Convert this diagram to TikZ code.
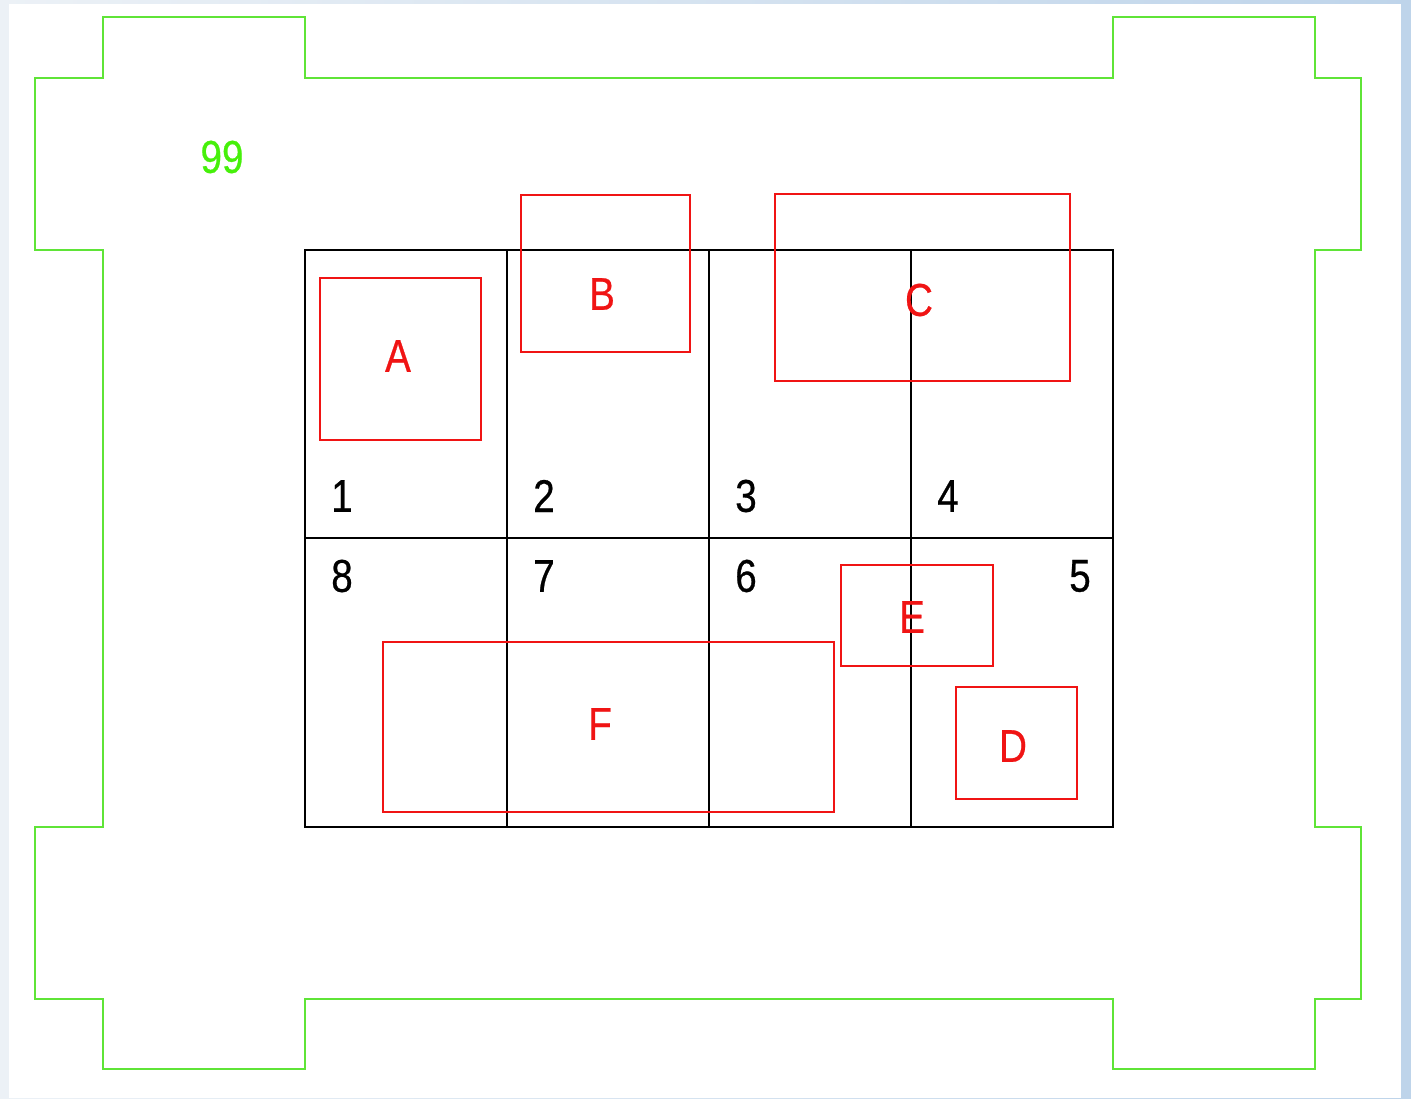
\documentclass[tikz,border=0pt]{standalone}
\usepackage{graphicx}
\usepackage{fontspec}
\setmainfont{Liberation Sans}[FakeBold=0.6]
\definecolor{bgblue}{RGB}{190,212,234}
\definecolor{bggray}{RGB}{236,241,246}
\definecolor{linegreen}{RGB}{95,228,55}
\definecolor{textgreen}{RGB}{70,240,10}
\definecolor{boxred}{RGB}{240,20,20}
\newcommand{\narrowtxt}[1]{\scalebox{0.84}[1]{#1}}
\tikzset{
  outline/.style={draw=linegreen, line width=1.2pt},
  grid line/.style={draw=black, line width=1.3pt},
  redbox/.style={draw=boxred, line width=1.1pt},
  lbl/.style={inner sep=0pt, font=\fontsize{46}{46}\selectfont},
  redlbl/.style={lbl, text=boxred},
  numlbl/.style={lbl, text=black},
}
\begin{document}
\begin{tikzpicture}[x=1pt,y=-1pt]
\useasboundingbox (0,0) rectangle (1411,1098);
\shade[left color=bggray, right color=bgblue] (0,0) rectangle (1411,1098);
\fill[white] (9,4) rectangle (1401,1098);
% green outline
\draw[outline] (35,250) -- (35,78) -- (103,78) -- (103,17) -- (305,17) -- (305,78)
  -- (1113,78) -- (1113,17) -- (1315,17) -- (1315,78) -- (1361,78) -- (1361,250)
  -- (1315,250) -- (1315,827) -- (1361,827) -- (1361,999) -- (1315,999) -- (1315,1069)
  -- (1113,1069) -- (1113,999) -- (305,999) -- (305,1069) -- (103,1069) -- (103,999)
  -- (35,999) -- (35,827) -- (103,827) -- (103,250) -- cycle;
\node[lbl, text=textgreen] (n99) at (222,157) {\narrowtxt{99}};
% grid
\draw[grid line] (305,250) rectangle (1113,827);
\draw[grid line] (305,538) -- (1113,538);
\foreach \x in {507,709,911} \draw[grid line] (\x,250) -- (\x,827);
% red boxes
\draw[redbox] (320,278) rectangle (481,440);
\draw[redbox] (521,195) rectangle (690,352);
\draw[redbox] (775,194) rectangle (1070,381);
\draw[redbox] (841,565) rectangle (993,666);
\draw[redbox] (956,687) rectangle (1077,799);
\draw[redbox] (383,642) rectangle (834,812);
\node[redlbl] (la) at (398,356) {\narrowtxt{A}};
\node[redlbl] (lb) at (602,294) {\narrowtxt{B}};
\node[redlbl] (lc) at (919,300) {\narrowtxt{C}};
\node[redlbl] (le) at (912,617) {\narrowtxt{E}};
\node[redlbl] (ld) at (1013,746) {\narrowtxt{D}};
\node[redlbl] (lf) at (600,724) {\narrowtxt{F}};
% cell numbers
\node[numlbl] (c1) at (342,496) {\narrowtxt{1}};
\node[numlbl] (c2) at (544,496) {\narrowtxt{2}};
\node[numlbl] (c3) at (746,496) {\narrowtxt{3}};
\node[numlbl] (c4) at (948,496) {\narrowtxt{4}};
\node[numlbl] (c8) at (342,576) {\narrowtxt{8}};
\node[numlbl] (c7) at (544,576) {\narrowtxt{7}};
\node[numlbl] (c6) at (746,576) {\narrowtxt{6}};
\node[numlbl] (c5) at (1080,576) {\narrowtxt{5}};
\end{tikzpicture}
\end{document}
